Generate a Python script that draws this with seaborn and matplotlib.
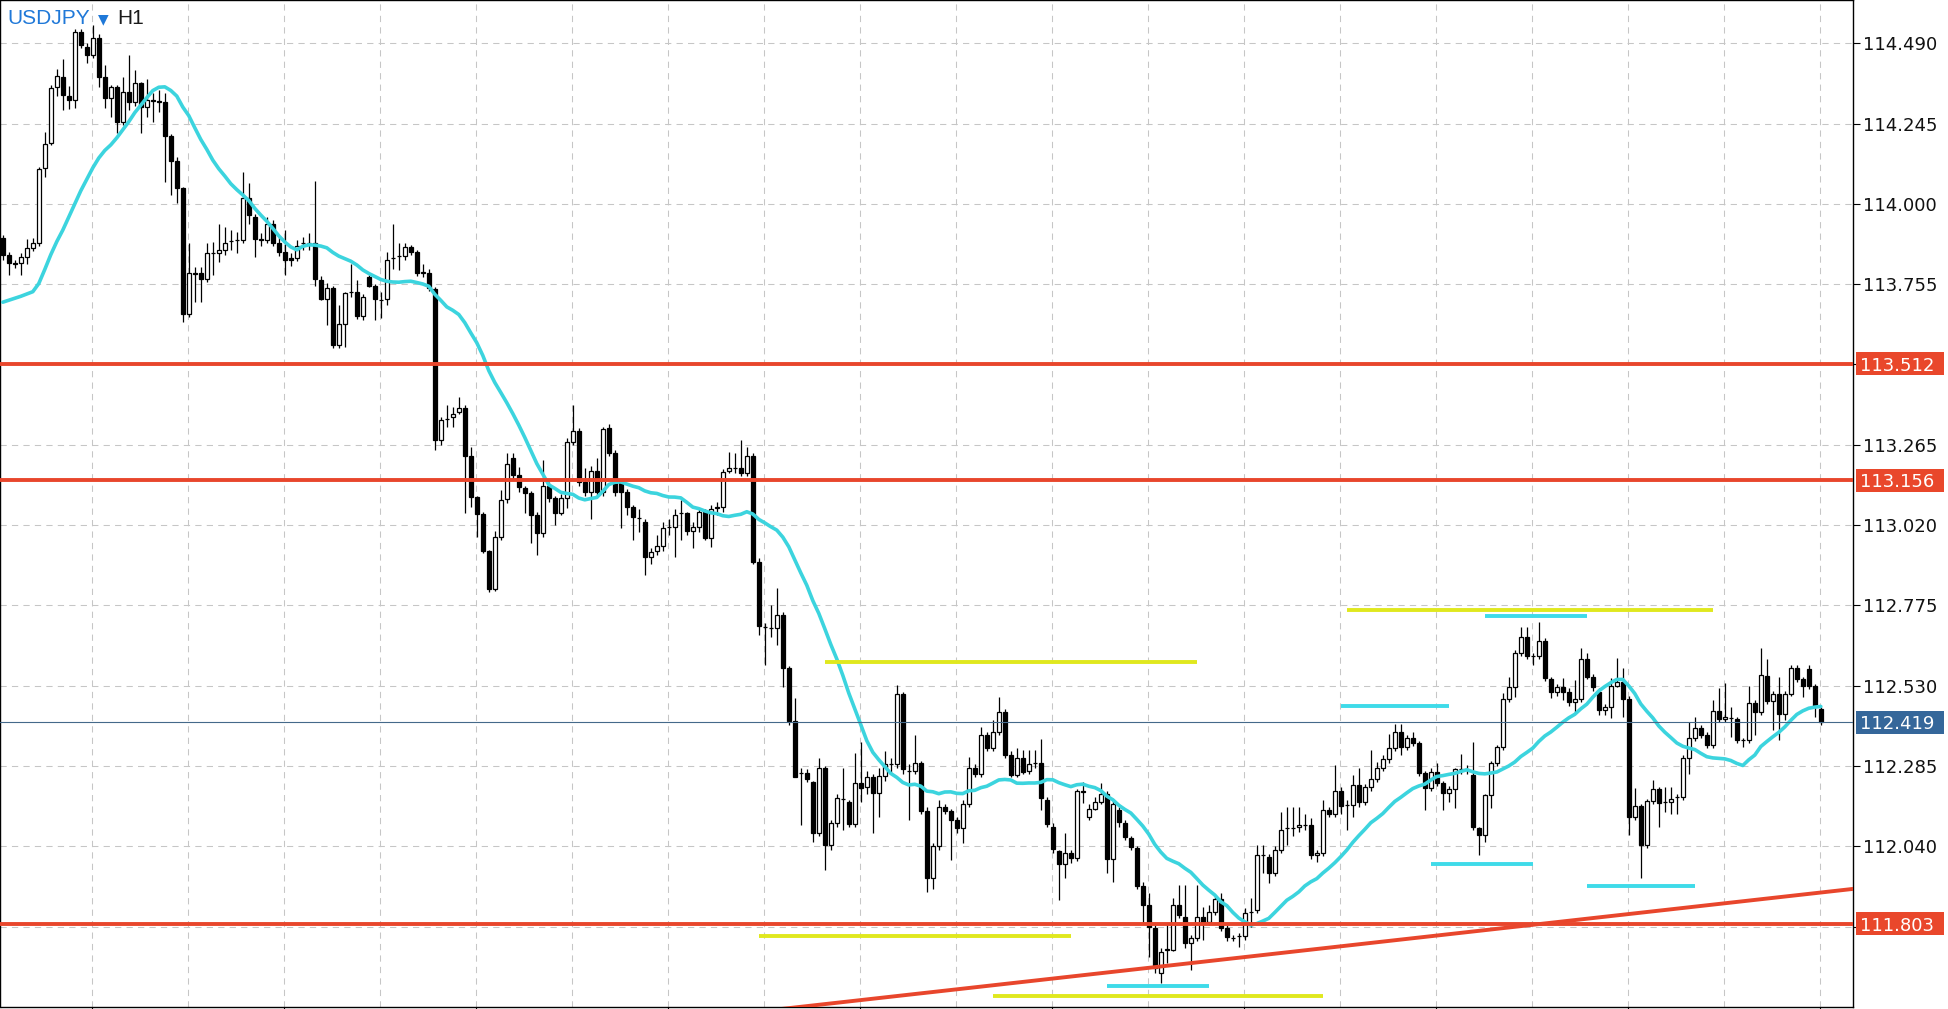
import numpy as np
import pandas as pd
import matplotlib
matplotlib.use('Agg')
import matplotlib.pyplot as plt
import matplotlib.transforms as mtransforms
from matplotlib.patches import Rectangle
import seaborn as sns

# USDJPY H1 candles
opens = [
    113.896, 113.844, 113.820, 113.820, 113.838, 113.865, 113.880, 114.109, 114.185, 114.356,
    114.387, 114.330, 114.317, 114.524, 114.480, 114.454, 114.506, 114.387, 114.323, 114.356,
    114.250, 114.340, 114.310, 114.370, 114.296, 114.317, 114.314, 114.310, 114.207, 114.130,
    114.048, 113.664, 113.790, 113.790, 113.770, 113.850, 113.850, 113.860, 113.886, 113.890,
    113.890, 114.017, 113.960, 113.893, 113.890, 113.940, 113.880, 113.853, 113.835, 113.835,
    113.880, 113.880, 113.880, 113.768, 113.710, 113.743, 113.570, 113.633, 113.730, 113.730,
    113.658, 113.776, 113.750, 113.707, 113.710, 113.835, 113.840, 113.842, 113.868, 113.853,
    113.790, 113.790, 113.740, 113.280, 113.344, 113.350, 113.365, 113.378, 113.230, 113.106,
    113.054, 112.941, 112.825, 112.984, 113.100, 113.225, 113.172, 113.133, 113.118, 113.051,
    112.996, 113.139, 113.103, 113.057, 113.103, 113.274, 113.307, 113.150, 113.120, 113.185,
    113.120, 113.315, 113.240, 113.150, 113.120, 113.075, 113.042, 113.030, 112.923, 112.940,
    112.955, 113.014, 113.014, 113.057, 113.057, 113.002, 113.014, 113.060, 112.980, 113.073,
    113.075, 113.185, 113.194, 113.194, 113.180, 113.230, 112.908, 112.709, 112.706, 112.706,
    112.746, 112.584, 112.422, 112.264, 112.264, 112.236, 112.080, 112.279, 112.045, 112.110,
    112.184, 112.175, 112.108, 112.233, 112.220, 112.250, 112.203, 112.255, 112.290, 112.290,
    112.505, 112.270, 112.270, 112.294, 112.148, 111.943, 112.040, 112.160, 112.148, 112.120,
    112.095, 112.170, 112.280, 112.260, 112.380, 112.340, 112.390, 112.450, 112.320, 112.258,
    112.310, 112.270, 112.293, 112.293, 112.181, 112.100, 112.025, 111.985, 112.020, 112.005,
    112.210, 112.130, 112.155, 112.175, 112.200, 112.000, 112.150, 112.110, 112.065, 112.035,
    111.920, 111.860, 111.790, 111.653, 111.725, 111.725, 111.860, 111.825, 111.745, 111.760,
    111.825, 111.810, 111.840, 111.880, 111.790, 111.760, 111.766, 111.766, 111.840, 111.845,
    112.013, 112.007, 111.960, 112.030, 112.096, 112.096, 112.100, 112.105, 112.105, 112.013,
    112.020, 112.150, 112.140, 112.210, 112.165, 112.165, 112.227, 112.175, 112.220, 112.245,
    112.280, 112.305, 112.340, 112.390, 112.343, 112.370, 112.355, 112.263, 112.218, 112.267,
    112.233, 112.203, 112.215, 112.275, 112.273, 112.258, 112.096, 112.075, 112.195, 112.294,
    112.343, 112.490, 112.525, 112.630, 112.678, 112.620, 112.620, 112.666, 112.550, 112.510,
    112.525, 112.510, 112.480, 112.490, 112.610, 112.557, 112.510, 112.456, 112.465, 112.530,
    112.540, 112.490, 112.129, 112.163, 112.043, 112.178, 112.215, 112.175, 112.175, 112.190,
    112.190, 112.310, 112.370, 112.400, 112.380, 112.350, 112.452, 112.428, 112.430, 112.428,
    112.363, 112.363, 112.478, 112.450, 112.560, 112.483, 112.505, 112.445, 112.505, 112.585,
    112.550, 112.580, 112.530, 112.460,
]
closes = [
    113.844, 113.820, 113.817, 113.838, 113.865, 113.880, 114.106, 114.182, 114.353, 114.390,
    114.332, 114.317, 114.524, 114.485, 114.454, 114.506, 114.387, 114.323, 114.356, 114.250,
    114.340, 114.310, 114.370, 114.296, 114.317, 114.314, 114.310, 114.207, 114.130, 114.048,
    113.664, 113.790, 113.785, 113.770, 113.850, 113.850, 113.860, 113.880, 113.886, 113.890,
    114.017, 113.966, 113.893, 113.890, 113.940, 113.880, 113.853, 113.830, 113.830, 113.870,
    113.880, 113.880, 113.770, 113.710, 113.743, 113.570, 113.633, 113.727, 113.730, 113.658,
    113.716, 113.750, 113.710, 113.707, 113.830, 113.835, 113.840, 113.868, 113.853, 113.790,
    113.790, 113.743, 113.280, 113.340, 113.344, 113.360, 113.378, 113.230, 113.106, 113.054,
    112.941, 112.825, 112.984, 113.097, 113.206, 113.172, 113.136, 113.118, 113.051, 112.996,
    113.139, 113.103, 113.057, 113.103, 113.274, 113.307, 113.152, 113.120, 113.185, 113.120,
    113.313, 113.240, 113.120, 113.120, 113.075, 113.045, 113.042, 112.923, 112.938, 112.955,
    113.010, 113.014, 113.050, 113.057, 113.002, 113.014, 113.060, 112.980, 113.070, 113.073,
    113.182, 113.194, 113.194, 113.180, 113.230, 112.908, 112.712, 112.709, 112.706, 112.746,
    112.584, 112.422, 112.252, 112.264, 112.245, 112.080, 112.279, 112.045, 112.110, 112.186,
    112.184, 112.108, 112.233, 112.218, 112.250, 112.203, 112.255, 112.290, 112.290, 112.505,
    112.275, 112.270, 112.294, 112.148, 111.943, 112.040, 112.160, 112.148, 112.120, 112.095,
    112.170, 112.280, 112.260, 112.380, 112.340, 112.390, 112.450, 112.320, 112.258, 112.310,
    112.267, 112.290, 112.293, 112.187, 112.108, 112.032, 111.985, 112.020, 112.005, 112.210,
    112.205, 112.155, 112.175, 112.200, 112.000, 112.170, 112.113, 112.068, 112.038, 111.920,
    111.860, 111.794, 111.670, 111.717, 111.725, 111.860, 111.830, 111.745, 111.760, 111.825,
    111.810, 111.840, 111.880, 111.790, 111.763, 111.760, 111.766, 111.836, 111.840, 112.013,
    112.013, 111.960, 112.030, 112.090, 112.096, 112.096, 112.105, 112.105, 112.013, 112.020,
    112.150, 112.140, 112.210, 112.163, 112.165, 112.227, 112.175, 112.220, 112.245, 112.280,
    112.305, 112.340, 112.390, 112.343, 112.370, 112.355, 112.263, 112.218, 112.267, 112.233,
    112.203, 112.215, 112.275, 112.275, 112.273, 112.100, 112.075, 112.195, 112.294, 112.343,
    112.490, 112.525, 112.630, 112.678, 112.620, 112.620, 112.666, 112.553, 112.510, 112.525,
    112.510, 112.480, 112.490, 112.610, 112.557, 112.525, 112.456, 112.465, 112.530, 112.540,
    112.490, 112.129, 112.163, 112.043, 112.178, 112.215, 112.172, 112.175, 112.185, 112.190,
    112.310, 112.370, 112.400, 112.380, 112.350, 112.452, 112.428, 112.434, 112.430, 112.363,
    112.363, 112.478, 112.450, 112.563, 112.483, 112.505, 112.445, 112.505, 112.585, 112.550,
    112.530, 112.530, 112.468, 112.419,
]
highs = [
    113.905, 113.852, 113.829, 113.849, 113.892, 113.895, 114.113, 114.220, 114.363, 114.410,
    114.441, 114.360, 114.535, 114.535, 114.490, 114.546, 114.518, 114.424, 114.363, 114.363,
    114.388, 114.454, 114.408, 114.373, 114.380, 114.337, 114.347, 114.337, 114.212, 114.144,
    114.050, 113.880, 113.808, 113.808, 113.880, 113.885, 113.940, 113.930, 113.920, 113.915,
    114.098, 114.063, 113.970, 113.910, 113.960, 113.950, 113.900, 113.920, 113.850, 113.890,
    113.900, 113.910, 114.070, 113.780, 113.758, 113.750, 113.690, 113.732, 113.818, 113.768,
    113.725, 113.783, 113.755, 113.732, 113.854, 113.938, 113.880, 113.880, 113.875, 113.860,
    113.818, 113.800, 113.745, 113.350, 113.386, 113.380, 113.412, 113.385, 113.259, 113.110,
    113.060, 112.945, 113.003, 113.127, 113.239, 113.240, 113.198, 113.140, 113.125, 113.060,
    113.218, 113.150, 113.110, 113.115, 113.285, 113.386, 113.315, 113.195, 113.200, 113.224,
    113.320, 113.328, 113.250, 113.160, 113.130, 113.080, 113.070, 113.040, 112.950, 112.990,
    113.030, 113.040, 113.070, 113.096, 113.060, 113.030, 113.070, 113.070, 113.080, 113.090,
    113.190, 113.244, 113.239, 113.280, 113.259, 113.240, 112.920, 112.720, 112.776, 112.827,
    112.755, 112.590, 112.491, 112.280, 112.275, 112.240, 112.308, 112.285, 112.120, 112.200,
    112.278, 112.180, 112.324, 112.359, 112.270, 112.260, 112.280, 112.330, 112.310, 112.532,
    112.510, 112.290, 112.379, 112.300, 112.160, 112.050, 112.180, 112.170, 112.155, 112.130,
    112.180, 112.313, 112.290, 112.405, 112.390, 112.425, 112.495, 112.460, 112.330, 112.339,
    112.334, 112.334, 112.334, 112.367, 112.190, 112.110, 112.030, 112.079, 112.030, 112.215,
    112.237, 112.170, 112.190, 112.232, 112.210, 112.180, 112.160, 112.120, 112.070, 112.040,
    111.930, 111.896, 111.800, 111.730, 111.805, 111.881, 111.922, 111.922, 111.770, 111.922,
    111.855, 111.861, 111.890, 111.896, 111.800, 111.770, 111.775, 111.851, 111.881, 112.044,
    112.044, 112.015, 112.040, 112.146, 112.161, 112.161, 112.161, 112.140, 112.125, 112.030,
    112.181, 112.160, 112.288, 112.220, 112.180, 112.257, 112.278, 112.230, 112.334, 112.298,
    112.320, 112.384, 112.413, 112.413, 112.380, 112.390, 112.360, 112.270, 112.280, 112.293,
    112.240, 112.225, 112.280, 112.323, 112.288, 112.359, 112.100, 112.200, 112.300, 112.350,
    112.507, 112.557, 112.640, 112.709, 112.709, 112.630, 112.724, 112.675, 112.555, 112.535,
    112.552, 112.522, 112.547, 112.644, 112.629, 112.565, 112.522, 112.475, 112.552, 112.613,
    112.583, 112.500, 112.217, 112.170, 112.185, 112.242, 112.220, 112.222, 112.222, 112.200,
    112.320, 112.420, 112.435, 112.410, 112.390, 112.486, 112.522, 112.537, 112.466, 112.435,
    112.370, 112.529, 112.485, 112.644, 112.610, 112.515, 112.557, 112.515, 112.594, 112.593,
    112.555, 112.593, 112.535, 112.465,
]
lows = [
    113.830, 113.783, 113.803, 113.783, 113.818, 113.855, 113.870, 114.083, 114.180, 114.330,
    114.286, 114.288, 114.291, 114.475, 114.429, 114.445, 114.357, 114.291, 114.266, 114.215,
    114.240, 114.286, 114.300, 114.215, 114.266, 114.250, 114.281, 114.068, 114.027, 114.002,
    113.640, 113.655, 113.702, 113.702, 113.763, 113.783, 113.823, 113.844, 113.860, 113.849,
    113.880, 113.940, 113.838, 113.870, 113.880, 113.870, 113.840, 113.783, 113.810, 113.825,
    113.860, 113.860, 113.750, 113.707, 113.630, 113.559, 113.559, 113.564, 113.717, 113.650,
    113.646, 113.747, 113.646, 113.651, 113.692, 113.800, 113.798, 113.829, 113.845, 113.780,
    113.778, 113.735, 113.249, 113.264, 113.320, 113.320, 113.360, 113.056, 113.076, 112.985,
    112.934, 112.817, 112.820, 112.975, 113.086, 113.160, 113.120, 113.056, 112.964, 112.929,
    112.985, 113.090, 113.020, 113.050, 113.071, 113.265, 113.140, 113.110, 113.040, 113.110,
    113.110, 113.230, 113.110, 113.010, 113.050, 112.975, 113.000, 112.868, 112.900, 112.930,
    112.940, 112.990, 112.924, 112.975, 112.990, 112.950, 113.000, 112.975, 112.954, 113.050,
    113.060, 113.180, 113.178, 113.170, 113.170, 112.900, 112.685, 112.593, 112.680, 112.654,
    112.527, 112.410, 112.250, 112.105, 112.235, 112.054, 112.070, 111.968, 112.030, 112.100,
    112.090, 112.100, 112.100, 112.176, 112.200, 112.080, 112.130, 112.240, 112.260, 112.280,
    112.260, 112.120, 112.260, 112.140, 111.900, 111.910, 112.030, 112.140, 111.998, 112.080,
    112.049, 112.160, 112.250, 112.250, 112.330, 112.330, 112.380, 112.310, 112.250, 112.250,
    112.260, 112.260, 112.280, 112.150, 112.100, 112.020, 111.876, 111.942, 111.990, 111.995,
    112.171, 112.120, 112.150, 112.170, 111.957, 111.932, 112.100, 112.060, 112.030, 111.910,
    111.805, 111.703, 111.652, 111.623, 111.683, 111.720, 111.820, 111.729, 111.662, 111.750,
    111.754, 111.800, 111.830, 111.780, 111.750, 111.750, 111.733, 111.755, 111.795, 111.835,
    111.957, 111.927, 111.950, 112.020, 112.044, 112.070, 112.085, 112.090, 112.000, 111.993,
    112.010, 112.130, 112.130, 112.140, 112.090, 112.130, 112.160, 112.165, 112.210, 112.235,
    112.270, 112.295, 112.330, 112.318, 112.335, 112.345, 112.255, 112.150, 112.210, 112.225,
    112.150, 112.176, 112.156, 112.260, 112.260, 112.090, 112.013, 112.054, 112.156, 112.285,
    112.335, 112.480, 112.496, 112.620, 112.610, 112.593, 112.610, 112.545, 112.491, 112.500,
    112.486, 112.468, 112.451, 112.480, 112.550, 112.515, 112.440, 112.440, 112.430, 112.525,
    112.435, 112.075, 112.120, 111.943, 112.035, 112.170, 112.100, 112.146, 112.140, 112.140,
    112.180, 112.262, 112.360, 112.370, 112.340, 112.340, 112.420, 112.420, 112.374, 112.355,
    112.344, 112.355, 112.380, 112.440, 112.475, 112.395, 112.364, 112.425, 112.500, 112.540,
    112.496, 112.520, 112.435, 112.410,
]

# moving average for the first 19 bars (its history lies left of the chart)
ma_early = [113.700, 113.706, 113.712, 113.718, 113.725, 113.732, 113.757, 113.800, 113.845,
            113.885, 113.920, 113.960, 114.000, 114.040, 114.075, 114.110, 114.140, 114.163,
            114.180]
ma_period = 20

price_ticks = [114.490, 114.245, 114.000, 113.755, 113.510, 113.265, 113.020,
               112.775, 112.530, 112.285, 112.040, 111.795]
hidden_ticks = [113.510, 111.795]

red_levels = [113.512, 113.156, 111.803]
last_price = 112.419

trend_idx = [128.0, 308.4]
trend_price = [111.540, 111.910]

yellow_price = [112.602, 111.766, 111.582, 112.761]
yellow_start = [137, 126, 165, 224]
yellow_end = [199, 178, 220, 285]

cyan_price = [111.614, 112.468, 111.986, 112.743, 111.919]
cyan_start = [184, 223, 238, 247, 264]
cyan_end = [201, 241, 255, 264, 282]

df = pd.DataFrame({'open': opens, 'high': highs, 'low': lows, 'close': closes})
df['idx'] = np.arange(len(df))
ma = df['close'].rolling(ma_period).mean()
ma.iloc[:len(ma_early)] = ma_early
df['ma'] = ma

sns.set_theme(style='white')
plt.rcParams['font.family'] = ['DejaVu Sans']

W, H = 1949, 1009
fig = plt.figure(figsize=(W / 100, H / 100), dpi=100)
fig.patch.set_facecolor('white')
ax_w = 1852.5
ax = fig.add_axes([0.5 / W, 2 / H, ax_w / W, 1007 / H])
ax.set_facecolor('white')

px_per_price = 1 / 0.003051
ax.set_ylim(114.622 - 1007 / px_per_price, 114.622)
ax.set_xlim(-2.3 / 6.0, (ax_w - 2.3) / 6.0)

# grid
grid_x = np.arange(14.9, 308, 16.0)
ax.set_xticks(grid_x[::2])
ax.set_xticks(grid_x[1::2], minor=True)
ax.set_xticklabels([])
ax.tick_params(axis='x', which='major', direction='out', length=4, width=0.8,
               color='black', bottom=True, labelbottom=False)
ax.tick_params(axis='x', which='minor', length=0)
ax.yaxis.tick_right()
ax.set_yticks(price_ticks)
ax.set_yticklabels(['' if t in hidden_ticks else f'{t:.3f}' for t in price_ticks])
ax.tick_params(axis='y', direction='out', length=5, width=0.8, color='black',
               labelsize=13, pad=2, labelcolor='#111111', right=True, left=False)
grid_kw = dict(color='#c6c6c6', linestyle=(0, (6, 5)), linewidth=0.75)
ax.grid(True, axis='x', which='both', **grid_kw)
ax.grid(True, axis='y', which='major', **grid_kw)
ax.set_axisbelow(True)
for s in ax.spines.values():
    s.set_color('black')
    s.set_linewidth(1.0)

# candles
bull = df['close'] >= df['open']
body_lo = np.minimum(df['open'], df['close'])
body_h = np.maximum((df['close'] - df['open']).abs(), 0.0008)
ax.vlines(df['idx'], df['low'], df['high'], color='black', linewidth=0.9, zorder=2)
ax.bar(df['idx'], body_h, bottom=body_lo, width=0.6,
       color=np.where(bull, 'white', 'black'), edgecolor='black', linewidth=0.9, zorder=3)

# moving average
sns.lineplot(data=df, x='idx', y='ma', color='#3cd4de', linewidth=2.6, ax=ax, zorder=4)
ax.set_xlabel('')
ax.set_ylabel('')

# levels and drawings
ax.axhline(last_price, color='#44698a', linewidth=0.8, zorder=4)
for lev in red_levels:
    ax.axhline(lev, color='#e8462c', linewidth=2.8, zorder=5)
ax.plot(trend_idx, trend_price, color='#e8462c', linewidth=2.8, zorder=5)
ax.hlines(yellow_price, yellow_start, yellow_end, color='#e0e81e', linewidth=2.8, zorder=5)
ax.hlines(cyan_price, cyan_start, cyan_end, color='#3edbe9', linewidth=2.8, zorder=5)

# price tags on the axis
trans = mtransforms.blended_transform_factory(ax.transAxes, ax.transData)
box_x = (1856 - 0.5) / ax_w
box_w = 88 / ax_w
box_h = 23 / px_per_price
text_x = (1860 - 0.5) / ax_w
tags = [(lev, '#e9472b') for lev in red_levels] + [(last_price, '#35679a')]
for lev, col in tags:
    ax.add_patch(Rectangle((box_x, lev - box_h / 2), box_w, box_h, transform=trans,
                           facecolor=col, edgecolor='none', clip_on=False, zorder=6))
    ax.text(text_x, lev, f'{lev:.3f}', transform=trans, ha='left', va='center_baseline',
            color='white', fontsize=13, clip_on=False, zorder=7)

# symbol caption
base_y = 1 - 24 / H
fig.text(7 / W, base_y, 'USDJPY', color='#1f78d8', fontsize=15,
         family=['Liberation Sans', 'DejaVu Sans'], va='baseline')
fig.text(98 / W, 1 - 23 / H, '\u25bc', color='#1f78d8', fontsize=10,
         family=['DejaVu Sans'], va='baseline')
fig.text(117 / W, base_y, 'H1', color='#1a1a1a', fontsize=15,
         family=['Liberation Sans', 'DejaVu Sans'], va='baseline')

fig.savefig('out.png', dpi=100, facecolor='white')
